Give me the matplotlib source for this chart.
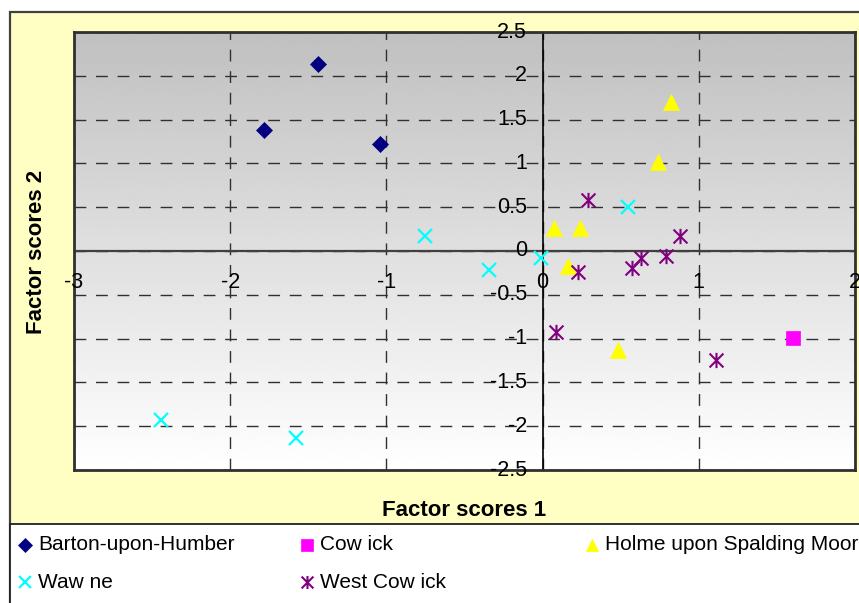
import numpy as np
import matplotlib
matplotlib.use("Agg")
import matplotlib.pyplot as plt
from matplotlib.path import Path
from matplotlib.patches import Rectangle

plt.rcParams['font.family'] = ['Liberation Sans', 'DejaVu Sans']

# ---- data ----
barton_x = [-1.44, -1.785, -1.04]
barton_y = [2.13, 1.38, 1.22]
cowick_x = [1.60]
cowick_y = [-0.99]
holme_x = [0.825, 0.736, 0.07, 0.237, 0.16, 0.48]
holme_y = [1.70, 1.02, 0.26, 0.26, -0.17, -1.13]
wawne_x = [-2.44, -1.58, -0.75, -0.345, -0.013, 0.544]
wawne_y = [-1.93, -2.13, 0.17, -0.22, -0.08, 0.50]
westc_x = [0.288, 0.877, 0.083, 0.224, 0.57, 0.633, 0.787, 1.113]
westc_y = [0.58, 0.17, -0.92, -0.24, -0.19, -0.08, -0.06, -1.24]

series_names = ["Barton-upon-Humber", "Cow ick", "Holme upon Spalding Moor",
                "Waw ne", "West Cow ick"]
x_ticks = [-3, -2, -1, 0, 1, 2]
y_ticks = [-2.5, -2, -1.5, -1, -0.5, 0, 0.5, 1, 1.5, 2, 2.5]
x_title = "Factor scores 1"
y_title = "Factor scores 2"

# star marker: X plus vertical bar
star = Path([(-0.5, -0.5), (0.5, 0.5), (-0.5, 0.5), (0.5, -0.5), (0, -0.55), (0, 0.55)],
            [Path.MOVETO, Path.LINETO, Path.MOVETO, Path.LINETO, Path.MOVETO, Path.LINETO])

styles = [
    dict(marker='D', color='#000080', ms=8.5, mec='#000080', mew=0.5),
    dict(marker='s', color='#FF00FF', ms=10, mec='#FF00FF', mew=0.5),
    dict(marker='^', color='#FFFF00', ms=11, mec='#FFFF00', mew=0.5),
    dict(marker='x', color='#00FFFF', ms=9.5, mec='#00FFFF', mew=1.6),
    dict(marker=star, color='#800080', ms=11, mec='#800080', mew=1.5),
]
data = [(barton_x, barton_y), (cowick_x, cowick_y), (holme_x, holme_y),
        (wawne_x, wawne_y), (westc_x, westc_y)]

W, H = 859, 603
fig = plt.figure(figsize=(W / 100, H / 100), dpi=100)
fig.patch.set_facecolor('white')

# outer chart area
fig.patches.append(Rectangle((10 / W, -0.02), 1.1, (H - 12) / H + 0.02,
                             transform=fig.transFigure, facecolor='#FFFFC4',
                             edgecolor='#404040', lw=1.6, zorder=-3))
# legend box
fig.patches.append(Rectangle((10 / W, -0.02), 1.1, (H - 524) / H + 0.02,
                             transform=fig.transFigure, facecolor='white',
                             edgecolor='#202020', lw=1.3, zorder=-2))

ax = fig.add_axes([74 / W, (H - 470) / H, (855 - 74) / W, (470 - 32) / H])
xmin, xmax = x_ticks[0], x_ticks[-1]
ymin, ymax = y_ticks[0], y_ticks[-1]
ax.set_xlim(xmin, xmax)
ax.set_ylim(ymin, ymax)

# gradient background
grad = np.linspace(192, 255, 256)[:, None] / 255.0
ax.imshow(np.repeat(grad, 2, axis=1), cmap='gray', vmin=0, vmax=1,
          extent=[xmin, xmax, ymin, ymax], aspect='auto', origin='upper', zorder=0)

# grid
for xv in x_ticks:
    ax.axvline(xv, color='#303030', lw=1.0, dashes=(8.5, 7), zorder=1)
for yv in y_ticks:
    ax.axhline(yv, color='#303030', lw=1.0, dashes=(8.5, 7), zorder=1)
ax.axhline(0, color='#404040', lw=1.6, zorder=2)
ax.axvline(0, color='black', lw=1.2, zorder=2)

for sp in ax.spines.values():
    sp.set_color('#303030')
    sp.set_linewidth(2)
ax.set_xticks([])
ax.set_yticks([])

# tick labels near axes
for xv in x_ticks:
    ax.text(xv, -0.365, f"{xv:g}", ha='center', va='center', fontsize=15.5, zorder=4)
for yv in y_ticks:
    ax.text(-0.1, yv, f"{yv:g}", ha='right', va='center', fontsize=15.5, zorder=4)

# data
for (xs, ys), st in zip(data, styles):
    ax.plot(xs, ys, ls='none', zorder=5, clip_on=False, **st)

# titles
fig.text(464 / W, 1 - 510 / H, x_title, ha='center', va='center',
         fontsize=16, fontweight='bold')
fig.text(37 / W, 1 - 252 / H, y_title, ha='center', va='center',
         fontsize=16, fontweight='bold', rotation=90)

# legend (manual)
lax = fig.add_axes([0, 0, 1, 1], facecolor='none')
lax.set_xlim(0, W)
lax.set_ylim(H, 0)
lax.axis('off')
pos = [(25, 545), (307, 545), (592, 545), (25, 582), (307, 582)]
for name, st, (px, py) in zip(series_names, styles, pos):
    s2 = dict(st)
    s2['ms'] = st['ms'] * 0.85
    lax.plot([px], [py], ls='none', clip_on=False, **s2)
    lax.text(px + 13, py, name, ha='left', va='center', fontsize=15)

fig.savefig('out.png', dpi=100)
